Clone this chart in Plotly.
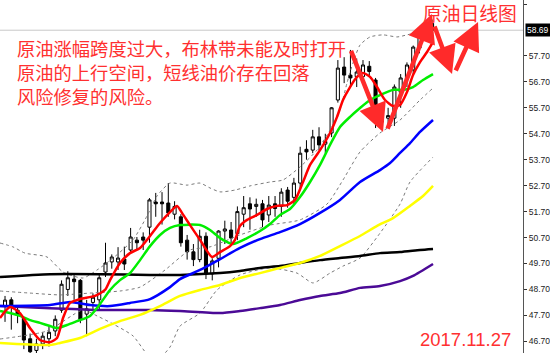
import plotly.graph_objects as go

# ---- candles (index = trading day in view) ----
opens  = [48.06,48.3,47.9,47.6,46.8,46.35,46.6,46.8,47.1,47.9,48.7,49.1,49.05,47.75,48.2,48.3,49.37,49.76,49.76,49.87,
          50.22,50.6,50.72,51.1,52.07,52.07,52.03,51.6,51.5,50.6,50.15,49.85,50.75,49.3,49.9,50.95,50.99,50.85,51.6,52.0,
          51.9,52.0,51.57,52.0,51.9,52.53,52.25,52.8,54.1,54.07,54.58,54.3,54.73,56.0,57.27,56.96,56.9,56.9,57.3,56.77,
          55.15,55.3,55.3,56.3,56.8,57.16,58.0,58.55,58.95]
highs  = [48.45,48.4,48.0,47.5,47.0,46.8,47.05,47.3,47.7,49.05,49.4,49.25,49.1,48.3,48.55,49.33,50.5,50.05,50.33,50.35,
          51.07,50.72,50.9,52.22,52.42,52.45,52.8,52.1,51.6,50.8,50.45,51.0,50.9,49.9,50.98,51.35,51.3,51.9,52.3,52.25,
          52.2,52.15,52.3,52.3,52.6,52.65,53.0,54.2,54.45,54.85,54.95,54.7,55.73,57.54,57.65,57.93,57.6,57.54,57.5,56.85,
          55.5,55.7,56.6,57.0,57.45,58.1,58.6,59.05,59.1]
lows   = [47.45,47.15,47.4,46.4,46.1,46.1,46.4,46.5,46.9,47.8,48.45,48.3,47.4,46.9,47.95,47.9,49.18,49.5,49.45,49.45,
          50.1,50.22,50.22,50.5,51.5,51.2,51.5,51.4,50.35,49.85,49.6,49.75,49.1,49.05,49.55,50.45,50.45,50.6,51.1,51.0,
          51.5,51.1,51.3,51.5,51.5,51.85,52.0,52.6,53.7,53.95,54.07,53.95,54.57,55.9,56.65,56.5,56.5,56.77,56.9,54.92,
          54.85,54.95,55.0,55.7,56.5,57.0,57.8,58.4,58.55]
closes = [48.29,48.1,47.7,46.75,46.3,46.6,46.9,47.05,47.55,48.9,49.15,49.0,47.55,47.95,48.4,49.15,49.72,49.95,49.91,49.68,
          50.72,50.5,50.6,52.15,52.0,52.0,51.65,51.9,50.5,50.15,49.85,50.75,49.33,49.8,50.95,51.03,50.68,51.7,51.85,51.8,
          51.98,51.38,51.95,51.82,52.45,52.1,52.8,53.95,54.0,54.58,54.27,54.4,55.7,57.23,56.96,56.85,57.08,57.35,57.1,55.15,
          55.35,55.4,56.5,56.85,57.35,58.04,58.5,58.95,58.69]
days = list(range(len(closes)))

# ---- indicator lines (day index, price) ----
red_x = [-0.8,0.8,2.39,3.98,5.57,7.17,8.28,9.24,10.35,11.94,14.33,15.92,16.72,18.31,19.9,21.5,23.09,24.68,26.27,27.39,
         28.18,29.46,31.05,32.96,34.24,35.83,36.62,37.42,38.54,40.13,41.72,43.31,44.9,46.18,47.45,48.57,50.16,51.75,52.87,
         53.82,54.94,56.05,57.01,58.12,59.24,60.51,61.78,62.9,64.01,64.97,66.08,67.2,68.15]
red_y = [47.6,48.02,47.79,47.21,46.75,46.67,46.83,47.6,48.18,48.33,48.45,48.68,49.06,49.72,50.1,50.3,50.76,51.26,51.68,51.92,
         51.65,51.18,50.61,49.95,50.14,50.37,50.61,51.15,51.38,51.57,51.8,51.92,51.95,52.15,52.84,53.5,54.07,54.73,55.35,
         56.0,56.5,56.89,57.04,56.89,56.5,56.0,55.77,55.81,56.31,56.96,57.46,57.85,58.24]
green_x = [-0.8,0.8,2.39,3.98,5.57,7.17,8.28,9.87,11.46,13.54,15.13,16.72,18.31,19.9,21.5,23.09,24.68,26.27,27.87,31.05,
           32.64,34.24,36.31,38.54,40.6,42.2,43.79,45.38,46.97,48.57,50.16,51.75,53.34,54.94,56.53,58.12,59.71,61.78,63.38,
           64.97,66.56,68.15]
green_y = [47.87,47.79,47.68,47.52,47.41,47.29,47.21,47.33,47.48,47.68,48.14,48.68,49.06,49.33,49.83,50.37,50.8,51.07,51.18,51.18,
           50.99,50.68,50.45,50.68,50.95,51.22,51.57,51.8,52.26,52.84,53.5,54.27,54.96,55.35,55.69,56.0,56.19,56.39,56.39,
           56.5,56.77,57.0]
blue_x = [-0.8,7.17,10.35,13.54,16.72,19.9,23.09,26.27,27.87,31.05,34.24,37.42,40.6,43.79,46.97,50.16,53.34,56.53,59.71,
          61.31,62.9,64.49,66.08,68.15]
blue_y = [48.06,48.1,48.22,48.1,48.06,48.18,48.33,48.79,49.1,49.45,49.87,50.3,50.64,50.91,51.22,51.65,52.15,52.84,53.3,
          53.57,53.96,54.34,54.77,55.23]
yellow_x = [-0.8,7.17,8.76,11.94,15.13,18.31,21.5,24.68,27.87,31.05,34.24,37.42,40.6,43.79,46.97,50.16,53.34,56.53,59.24,
            61.78,64.49,66.56,68.15]
yellow_y = [46.64,46.56,46.64,46.83,47.18,47.48,47.72,48.06,48.45,48.68,48.87,49.14,49.33,49.53,49.72,49.99,50.37,50.76,51.15,
            51.45,51.92,52.3,52.69]
black_x = [-0.8,7.17,15.13,23.09,27.87,34.24,37.42,40.6,43.79,46.97,50.16,53.34,56.53,59.71,62.9,66.08,68.15]
black_y = [49.18,49.29,49.29,49.26,49.26,49.33,49.41,49.53,49.6,49.72,49.83,49.91,49.99,50.1,50.14,50.22,50.26]
purple_x = [-0.8,7.17,15.13,23.09,27.87,34.24,37.42,40.6,43.79,46.97,50.16,53.34,56.53,59.71,62.9,64.97,68.15]
purple_y = [48.06,47.98,47.91,47.91,47.87,47.79,47.87,47.98,48.1,48.29,48.45,48.56,48.76,48.83,49.02,49.22,49.68]

# ---- Bollinger bands ----
bb_up_x = [-0.8,1.27,3.18,6.69,9.24,12.42,14.65,17.2,20.38,22.61,24.2,26.27,28.98,31.05,32.64,34.24,36.62,39.01,42.2,
           44.27,46.97,49.68,51.75,53.34,54.46,55.41,56.53,58.12,60.19,62.42,64.01,65.61,67.2,68.15]
bb_up_y = [50.49,50.34,50.1,49.95,49.37,49.14,49.45,49.91,50.61,51.53,52.3,52.8,52.72,52.8,52.61,52.46,52.53,52.69,52.84,
           52.92,53.42,54.07,54.84,55.62,56.66,57.43,58.12,58.43,58.51,58.43,58.51,58.62,58.89,59.08]
bb_mid_x = [-0.8,3.98,8.76,13.54,18.31,21.5,25.48,29.46,32.64,37.42,42.2,46.97,51.27,53.82,56.53,59.71,62.9,66.08,68.15]
bb_mid_y = [48.64,48.56,48.49,48.56,48.64,48.79,49.45,50.22,50.34,50.8,51.18,51.38,51.99,52.92,54.0,54.73,55.23,56.0,56.46]
bb_lo_x = [-0.8,6.69,12.42,14.65,17.2,20.38,22.61,24.2,26.27,27.87,31.05,33.76,37.42,42.2,46.5,49.04,51.75,53.82,56.53,
           59.71,62.9,64.49,68.15]
bb_lo_y = [46.79,47.1,47.91,47.68,47.37,46.91,46.21,45.98,46.48,47.29,47.79,48.68,49.26,49.53,49.33,48.95,49.33,49.6,49.91,
           50.87,51.99,52.84,53.8]

# ---- y axis ticks ----
tick_vals = [59.70, 57.70, 56.70, 55.70, 54.70, 53.70, 52.70, 51.70, 50.70, 49.70, 48.70, 47.70, 46.70]

# ---- hand-drawn arrows: (tail day, tail price, tip day, tip price) ----
arrows = [(55.0, 57.95, 60.19, 54.77),
          (60.83, 54.84, 67.99, 59.31),
          (68.31, 58.89, 71.18, 57.00),
          (71.66, 57.08, 75.32, 59.01)]

text_lines = ["原油涨幅跨度过大，布林带未能及时打开",
              "原油的上行空间，短线油价存在回落",
              "风险修复的风险。"]
title_text = "原油日线图"
date_text = "2017.11.27"

RED_TXT = "#ff3030"

fig = go.Figure()

fig.add_trace(go.Candlestick(
    x=days, open=opens, high=highs, low=lows, close=closes,
    increasing=dict(fillcolor="white", line=dict(color="black", width=1)),
    decreasing=dict(fillcolor="black", line=dict(color="black", width=1)),
    whiskerwidth=0, hoverinfo="skip", showlegend=False))

for bx, by in [(bb_up_x, bb_up_y), (bb_mid_x, bb_mid_y), (bb_lo_x, bb_lo_y)]:
    fig.add_trace(go.Scatter(x=bx, y=by, mode="lines",
                             line=dict(color="#7a7a7a", width=1, dash="3px,3px", shape="spline", smoothing=0.6),
                             hoverinfo="skip", showlegend=False))

for lx, ly, col, w in [(purple_x, purple_y, "#4b0a96", 2.5),
                       (black_x, black_y, "#000000", 2.5),
                       (yellow_x, yellow_y, "#ffff00", 2.5),
                       (blue_x, blue_y, "#0000ff", 2.5),
                       (green_x, green_y, "#00ee00", 2.5),
                       (red_x, red_y, "#ff0000", 2.5)]:
    fig.add_trace(go.Scatter(x=lx, y=ly, mode="lines",
                             line=dict(color=col, width=w, shape="spline", smoothing=0.6),
                             hoverinfo="skip", showlegend=False))

last = closes[-1]
fig.add_shape(type="line", xref="paper", x0=0, x1=1, yref="y", y0=last, y1=last,
              line=dict(color="#c8c8c8", width=1), layer="below")

ann = []
for (tx, ty, hx, hy) in arrows:
    ann.append(dict(x=hx, y=hy, ax=tx, ay=ty, xref="x", yref="y", axref="x", ayref="y",
                    showarrow=True, arrowhead=2, arrowsize=1.25, arrowwidth=4.5,
                    arrowcolor="#ff2a2a", text=""))

ann.append(dict(text="<br>".join(text_lines), xref="paper", yref="paper", x=16/523, y=1 - 34/353,
                xanchor="left", yanchor="top", align="left", showarrow=False, borderpad=0,
                font=dict(family="Noto Sans CJK SC", size=18.3, color=RED_TXT)))
ann.append(dict(text=title_text, xref="paper", yref="paper", x=422/523, y=1 - 12.5/353,
                xanchor="left", yanchor="middle", showarrow=False, borderpad=0,
                font=dict(family="Noto Sans CJK SC", size=18.8, color=RED_TXT)))
ann.append(dict(text=date_text, xref="paper", yref="paper", x=419/523, y=1 - 339/353,
                xanchor="left", yanchor="middle", showarrow=False, borderpad=0,
                font=dict(family="Liberation Sans", size=18.5, color=RED_TXT)))
ann.append(dict(text=f"{last:.2f}", xref="paper", yref="y", x=1, y=last, xanchor="left", yanchor="middle",
                xshift=2, showarrow=False, bgcolor="black", borderpad=1,
                font=dict(family="Liberation Sans", size=8.5, color="white")))

fig.update_layout(
    width=550, height=353, margin=dict(l=0, r=27, t=0, b=0),
    paper_bgcolor="white", plot_bgcolor="white", showlegend=False,
    annotations=ann,
    xaxis=dict(range=[-0.8, 82.48], showgrid=False, zeroline=False, showticklabels=False,
               ticks="", showline=False, rangeslider=dict(visible=False), fixedrange=True),
    yaxis=dict(range=[46.251, 59.854], side="right", showgrid=False, zeroline=False,
               tickvals=tick_vals, ticktext=[f"{v:.2f}" for v in tick_vals],
               ticks="outside", ticklen=3, tickcolor="#333", showline=True, linecolor="#555",
               linewidth=1, tickfont=dict(family="Liberation Sans", size=8.5, color="#222"),
               fixedrange=True),
)

fig.write_html("out.html")
